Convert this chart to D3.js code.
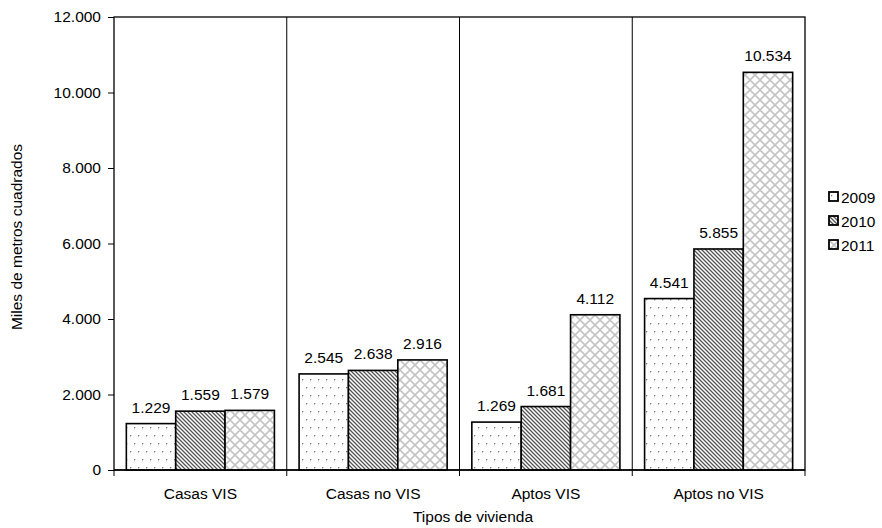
<!DOCTYPE html>
<html><head><meta charset="utf-8">
<script src="https://cdn.jsdelivr.net/npm/d3@7"></script>
<style>body{margin:0;background:#fff}svg{font-family:"Liberation Sans",Arial,sans-serif}</style>
</head><body><svg id="c" width="882" height="528"></svg>
<script>
const categories = ["Casas VIS", "Casas no VIS", "Aptos VIS", "Aptos no VIS"];
const years = ["2009", "2010", "2011"];
const v2009 = [1229, 2545, 1269, 4541];
const v2010 = [1559, 2638, 1681, 5855];
const v2011 = [1579, 2916, 4112, 10534];
const yTicks = [0, 2000, 4000, 6000, 8000, 10000, 12000];

const series = [v2009, v2010, v2011];
const fmt = v => d3.format(",")(v).replace(/,/g, ".");
const svg = d3.select("#c");
const m = {l:114, r:805, t:17, b:470};
const FS = 15.5;

const defs = svg.append("defs");
// dots
const p0 = defs.append("pattern").attr("id","pat0").attr("patternUnits","userSpaceOnUse").attr("width",8).attr("height",16);
p0.append("rect").attr("width",8).attr("height",16).attr("fill","#fff");
p0.append("rect").attr("x",2).attr("y",3).attr("width",1.3).attr("height",1.3).attr("fill","#777");
p0.append("rect").attr("x",6).attr("y",11).attr("width",1.3).attr("height",1.3).attr("fill","#777");
// stripes
const p1 = defs.append("pattern").attr("id","pat1").attr("patternUnits","userSpaceOnUse").attr("width",4).attr("height",4);
p1.append("rect").attr("width",4).attr("height",4).attr("fill","#fff");
p1.append("path").attr("d","M-1,-1 L5,5 M-1,3 L1,5 M3,-1 L5,1").attr("stroke","#555").attr("stroke-width",1.3);
// crosshatch
const p2 = defs.append("pattern").attr("id","pat2").attr("patternUnits","userSpaceOnUse").attr("width",10).attr("height",10);
p2.append("rect").attr("width",10).attr("height",10).attr("fill","#fff");
p2.append("path").attr("d","M0,0 L10,10 M10,0 L0,10").attr("stroke","#c4c4c4").attr("stroke-width",1.6);

const x0 = d3.scaleBand().domain(categories).range([m.l, m.r]);
const x1 = d3.scaleBand().domain(years).range([0, x0.bandwidth()]).paddingOuter(0.25).paddingInner(0);
const y = d3.scaleLinear().domain([0, 12000]).range([m.b, m.t]);

// separators
svg.append("g").selectAll("line").data(categories.slice(1)).join("line")
  .attr("x1", d => x0(d)).attr("x2", d => x0(d)).attr("y1", m.t).attr("y2", m.b + 6)
  .attr("stroke", "#000").attr("stroke-width", 1);
// frame
svg.append("rect").attr("x", m.l).attr("y", m.t).attr("width", m.r - m.l).attr("height", m.b - m.t)
  .attr("fill", "none").attr("stroke", "#000").attr("stroke-width", 1.3);

// y axis
const ya = svg.append("g").attr("transform", `translate(${m.l},0)`)
  .call(d3.axisLeft(y).tickValues(yTicks).tickFormat(fmt).tickSize(6).tickSizeOuter(0));
ya.select(".domain").remove();
ya.selectAll("text").attr("font-size", FS).attr("font-family", "Liberation Sans, Arial, sans-serif").attr("fill","#000").attr("x",-13);
ya.selectAll("line").attr("stroke","#000");

// x tick marks at edges
svg.append("g").selectAll("line").data([m.l, m.r]).join("line")
  .attr("x1", d => d).attr("x2", d => d).attr("y1", m.b).attr("y2", m.b + 6).attr("stroke", "#000");
// x labels
svg.append("g").selectAll("text").data(categories).join("text")
  .attr("x", d => x0(d) + x0.bandwidth() / 2).attr("y", 499).attr("text-anchor", "middle")
  .attr("font-size", FS).text(d => d);

// bars
series.forEach((s, i) => {
  const g = svg.append("g");
  g.selectAll("rect").data(s).join("rect")
    .attr("x", (d, j) => x0(categories[j]) + x1(years[i]))
    .attr("y", d => y(d)).attr("width", x1.bandwidth()).attr("height", d => m.b - y(d))
    .attr("fill", `url(#pat${i})`).attr("stroke", "#000").attr("stroke-width", 1.6);
  g.selectAll("text").data(s).join("text")
    .attr("x", (d, j) => x0(categories[j]) + x1(years[i]) + x1.bandwidth() / 2)
    .attr("y", d => y(d) - 11).attr("text-anchor", "middle").attr("font-size", FS).text(fmt);
});
// baseline
svg.append("line").attr("x1", m.l).attr("x2", m.r).attr("y1", m.b).attr("y2", m.b).attr("stroke", "#000").attr("stroke-width", 1.3);

// axis titles
svg.append("text").attr("x", 473).attr("y", 522).attr("text-anchor", "middle").attr("font-size", FS).text("Tipos de vivienda");
svg.append("text").attr("transform", "translate(22,237) rotate(-90)").attr("text-anchor", "middle").attr("font-size", FS).text("Miles de metros cuadrados");

// legend
const lg = svg.append("g").selectAll("g").data(years).join("g")
  .attr("transform", (d, i) => `translate(829,${192 + i * 24})`);
lg.append("rect").attr("width", 9).attr("height", 9).attr("fill", (d, i) => `url(#pat${i})`).attr("stroke", "#000").attr("stroke-width", 1.8);
lg.append("text").attr("x", 12).attr("y", 10.5).attr("font-size", FS).text(d => d);
</script></body></html>
